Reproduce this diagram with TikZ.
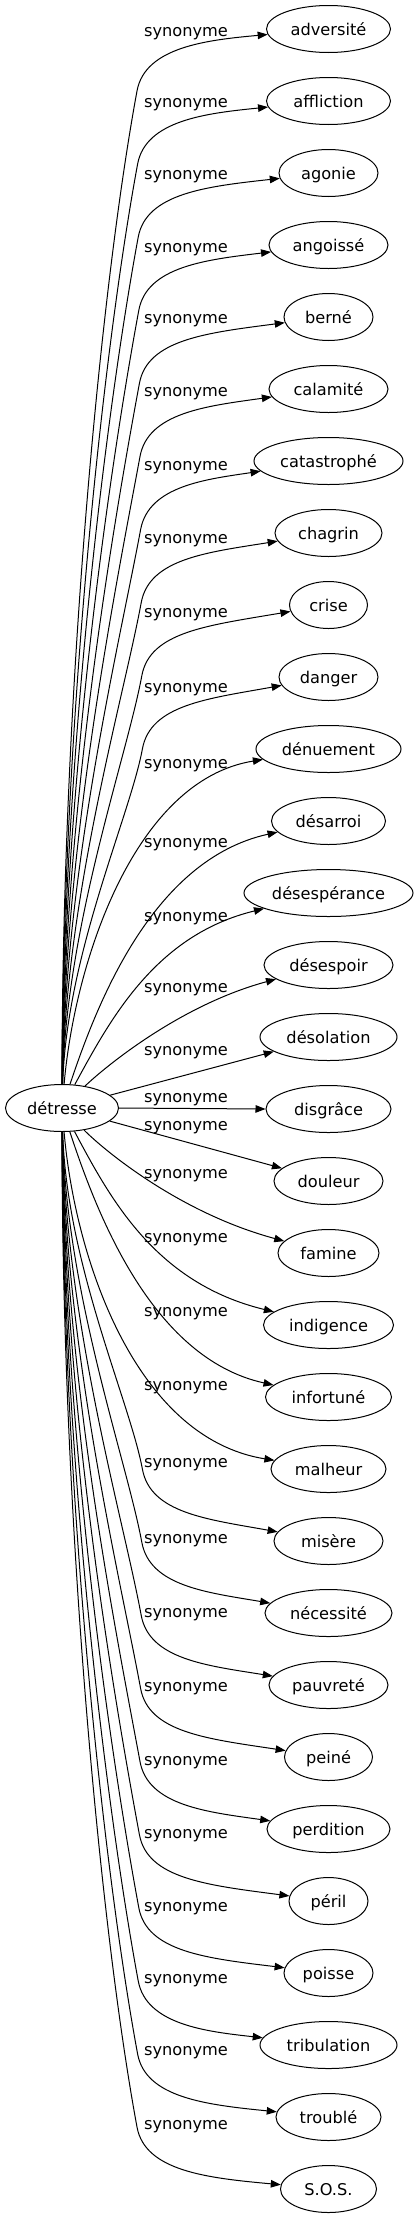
\documentclass[tikz,border=0pt]{standalone}
\usepackage{fontspec}
\setmainfont{DejaVu Sans}
\usetikzlibrary{arrows.meta,shapes.geometric}
\begin{document}
\begin{tikzpicture}[x=1pt,y=-1pt,
  every node/.style={font=\fontsize{16.2pt}{19pt}\selectfont},
  term/.style={draw, ellipse, line width=1pt, inner sep=0pt, minimum height=47pt, text height=12pt, text depth=0pt},
  lbl/.style={anchor=base, inner sep=0pt},
  conn/.style={line width=1pt, -{Triangle[length=10pt,width=7.5pt]}}]
\useasboundingbox (0,0) rectangle (418,2219);
\node[term, minimum width=113pt] (det) at (62,1108) {détresse};
\foreach \name/\w [count=\k from 0] in {adversité/124,affliction/124,agonie/99,angoissé/119,berné/89,calamité/119,catastrophé/149,chagrin/107,crise/78,danger/99,dénuement/145,désarroi/114,désespérance/169,désespoir/129,désolation/137,disgrâce/125,douleur/109,famine/101,indigence/130,infortuné/126,malheur/115,misère/109,nécessité/127,pauvreté/119,peiné/88,perdition/123,péril/79,poisse/89,tribulation/137,troublé/105,S.O.S./96}
  {\node[term, minimum width=\w pt] (t\k) at (328.5,{29+72*\k}) {\name};}
\foreach \ly [count=\k from 0] in {32,103,175,248,319,392,466,539,613,688,764,843,917,988,1051,1098,1126,1174,1238,1312,1386,1463,1539,1613,1687,1761,1834,1907,1979,2051,2125}
  {\node[lbl] (l\k) at (186,\ly+4.5) {synonyme};}
\foreach \k in {0,...,9} {
  \pgfmathsetmacro\yt{29+72*\k}
  \pgfmathsetmacro\xs{62+0.5*\k}
  \pgfmathsetmacro\xv{137+0.6*\k}
  \pgfmathsetmacro\yv{\yt+62+1.1*\k}
  \pgfmathsetmacro\lenA{1085-\yv}
  \pgfmathsetmacro\pay{1085-0.39*\lenA}
  \pgfmathsetmacro\pbx{\xv-0.037*\lenA}
  \pgfmathsetmacro\pby{\yv+0.2*\lenA}
  \pgfmathsetmacro\qax{\xv+8}
  \pgfmathsetmacro\qay{\yv-44}
  \pgfmathsetmacro\qby{\yt+11+1.2*\k}
  \draw[conn] (det) .. controls (\xs,\pay) and (\pbx,\pby) .. (\xv,\yv) .. controls (\qax,\qay) and (207,\qby) .. (t\k);
  \pgfmathtruncatemacro\mk{30-\k}
  \pgfmathsetmacro\mpay{2218-\pay}
  \pgfmathsetmacro\mpby{2218-\pby}
  \pgfmathsetmacro\myv{2218-\yv}
  \pgfmathsetmacro\mqay{2218-\qay}
  \pgfmathsetmacro\mqby{2218-\qby}
  \draw[conn] (det) .. controls (\xs,\mpay) and (\pbx,\mpby) .. (\xv,\myv) .. controls (\qax,\mqay) and (207,\mqby) .. (t\mk);
}
\draw[conn] (det) .. controls (75,960) and (135,780) .. (t10);
\draw[conn] (det) .. controls (95,1010) and (150,860) .. (t11);
\draw[conn] (det) .. controls (110,1020) and (155,935) .. (t12);
\draw[conn] (det) .. controls (105,1067) and (180,1005) .. (t13);
\draw[conn] (det) -- (t14);
\draw[conn] (det.east) -- (t15.west);
\draw[conn] (det) -- (t16);
\draw[conn] (det) .. controls (105,1151) and (180,1213) .. (t17);
\draw[conn] (det) .. controls (110,1198) and (155,1283) .. (t18);
\draw[conn] (det) .. controls (95,1208) and (150,1358) .. (t19);
\draw[conn] (det) .. controls (75,1258) and (135,1438) .. (t20);
\end{tikzpicture}
\end{document}
